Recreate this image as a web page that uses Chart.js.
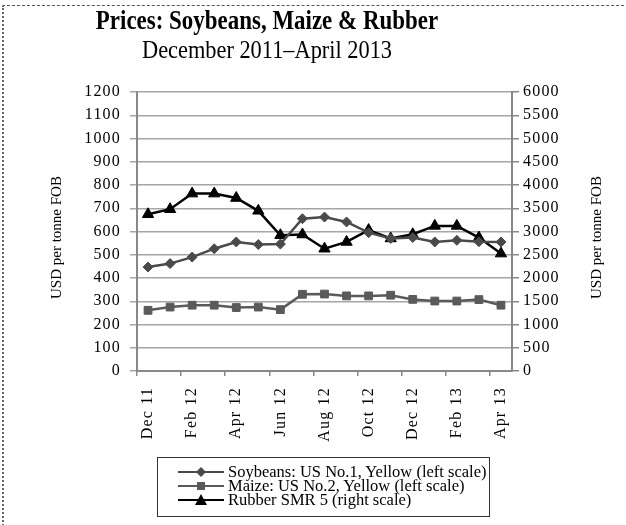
<!DOCTYPE html>
<html>
<head>
<meta charset="utf-8">
<script src="https://cdn.jsdelivr.net/npm/chart.js@4/dist/chart.umd.min.js"></script>
<style>
  html, body { margin: 0; padding: 0; background: #fff; overflow: hidden; }
  body { width: 626px; height: 525px; position: relative; font-family: 'Liberation Serif', 'Times New Roman', serif; }
  #frame { position: absolute; left: 2px; top: 5px; width: 700px; height: 600px;
           border-top: 1px dashed #555; border-left: 2px dotted #666; }
  #chart { position: absolute; left: 0; top: 0; }
  .ttl { position: absolute; left: 0; width: 534px; text-align: center; white-space: nowrap; color: #000; }
  #t1 { top: 5px; font-size: 27px; font-weight: bold; transform: scaleX(0.85); }
  #t2 { top: 35px; font-size: 26px; transform: scaleX(0.86); }
  #legend { position: absolute; left: 157px; top: 457px; width: 333px; height: 60px;
            border: 1.5px solid #333; box-sizing: border-box; }
  .row { position: absolute; left: 20px; height: 14px; line-height: 14px; font-size: 16.5px; white-space: nowrap; }
  .row svg { position: absolute; left: 0; top: 0; }
  .row span { position: absolute; left: 50px; top: 0; }
</style>
</head>
<body>
<div id="frame"></div>
<canvas id="chart" width="626" height="525"></canvas>
<div class="ttl" id="t1">Prices: Soybeans, Maize &amp; Rubber</div>
<div class="ttl" id="t2">December 2011–April 2013</div>
<div id="legend"></div>

<script>
// monthly prices, USD per tonne FOB
var months = ['Dec 11', 'Jan 12', 'Feb 12', 'Mar 12', 'Apr 12', 'May 12', 'Jun 12', 'Jul 12', 'Aug 12',
              'Sep 12', 'Oct 12', 'Nov 12', 'Dec 12', 'Jan 13', 'Feb 13', 'Mar 13', 'Apr 13'];
var soybeans = [447, 462, 490, 526, 555, 544, 546, 655, 662, 641, 595, 570, 574, 555, 562, 556, 555];
var maize = [261, 275, 283, 283, 273, 275, 264, 330, 331, 323, 323, 326, 308, 301, 301, 307, 283];
var rubber = [3370, 3480, 3815, 3815, 3720, 3445, 2920, 2935, 2630, 2775, 3030, 2850, 2940, 3120, 3120, 2870, 2525];

var leftTicks = [0, 1200, 100];
var rightTicks = [0, 6000, 500];

var serif = "'Liberation Serif', 'Times New Roman', serif";
var axisTitle = 'USD per tonne FOB';

var series = [
    { label: 'Soybeans: US No.1, Yellow (left scale)', data: soybeans, axis: 'y', color: '#4a4a4a', marker: 'rectRot', r: 5 },
    { label: 'Maize: US No.2, Yellow (left scale)', data: maize, axis: 'y', color: '#5a5a5a', marker: 'rect', r: 5.5 },
    { label: 'Rubber SMR 5 (right scale)', data: rubber, axis: 'y1', color: '#000000', marker: 'triangle', r: 6.5 }
];

//tick labels get a little tracking, axis titles are drawn afterwards without it
var textPlugin = {
    id: 'textPlugin',
    beforeDraw: function(chart) {
        chart.ctx.letterSpacing = '1.2px';
    },
    afterDraw: function(chart) {
        var ctx = chart.ctx;
        var area = chart.chartArea;
        ctx.save();
        ctx.letterSpacing = '0px';
        ctx.font = '15px ' + serif;
        ctx.fillStyle = '#000';
        ctx.textAlign = 'center';
        ctx.textBaseline = 'middle';
        var midY = (area.top + area.bottom) / 2 + 6;
        [57, 597].forEach(function(x) {
            ctx.save();
            ctx.translate(x, midY);
            ctx.rotate(-Math.PI / 2);
            ctx.fillText(axisTitle, 0, 0);
            ctx.restore();
        });
        ctx.restore();
    }
};

function plainNumber(v) {
    return String(v);
}

var ctx = document.getElementById('chart').getContext('2d');

var chart = new Chart(ctx, {
    type: 'line',
    data: {
        labels: months,
        datasets: series.map(function(s) {
            return {
                label: s.label,
                data: s.data,
                yAxisID: s.axis,
                borderColor: s.color,
                backgroundColor: s.color,
                borderWidth: 2.5,
                pointStyle: s.marker,
                pointRadius: s.r,
                pointBackgroundColor: s.color,
                pointBorderColor: s.color,
                pointBorderWidth: 1,
                tension: 0,
                fill: false
            };
        })
    },
    options: {
        responsive: false,
        animation: false,
        devicePixelRatio: 1,
        layout: { padding: { top: 92, left: 48, right: 19, bottom: 0 } },
        plugins: {
            legend: { display: false },
            tooltip: { enabled: false }
        },
        scales: {
            x: {
                type: 'category',
                offset: true,
                afterFit: function(scale) { scale.height = 154; },
                grid: {
                    offset: true,
                    drawOnChartArea: false,
                    drawTicks: true,
                    tickLength: 5,
                    lineWidth: 1.5,
                    color: function(c) { return c.index % 2 === 0 ? '#888' : 'rgba(0,0,0,0)'; }
                },
                border: { color: '#888', width: 2 },
                ticks: {
                    autoSkip: false,
                    minRotation: 90,
                    maxRotation: 90,
                    padding: 11,
                    color: '#000',
                    font: { family: serif, size: 16 },
                    callback: function(v, i) { return i % 2 === 0 ? this.getLabelForValue(v) : ''; }
                }
            },
            y: {
                position: 'left',
                min: leftTicks[0],
                max: leftTicks[1],
                afterFit: function(scale) { scale.width = 89; },
                grid: { color: '#a6a6a6', lineWidth: 1.5, tickLength: 7 },
                border: { color: '#888', width: 2 },
                ticks: {
                    stepSize: leftTicks[2],
                    padding: 9,
                    color: '#000',
                    font: { family: serif, size: 16 },
                    callback: plainNumber
                }
            },
            y1: {
                position: 'right',
                min: rightTicks[0],
                max: rightTicks[1],
                afterFit: function(scale) { scale.width = 95; },
                grid: { drawOnChartArea: false, color: '#888', lineWidth: 1.5, tickLength: 7 },
                border: { color: '#888', width: 2 },
                ticks: {
                    stepSize: rightTicks[2],
                    padding: 4,
                    color: '#000',
                    font: { family: serif, size: 16 },
                    callback: plainNumber
                }
            }
        }
    },
    plugins: [textPlugin]
});

//legend rows: small line sample with the series marker, then the label
function markerSvg(s) {
    var c = s.color, m;
    if (s.marker === 'rectRot') {
        m = '<polygon points="23,2 28,7 23,12 18,7" fill="' + c + '"/>';
    } else if (s.marker === 'rect') {
        m = '<rect x="19" y="3" width="8" height="8" fill="' + c + '"/>';
    } else {
        m = '<polygon points="23,1 29,12 17,12" fill="' + c + '"/>';
    }
    return '<svg width="46" height="14"><line x1="0" y1="7" x2="46" y2="7" stroke="' + c +
           '" stroke-width="2"/>' + m + '</svg>';
}

var legend = document.getElementById('legend');
series.forEach(function(s, i) {
    var row = document.createElement('div');
    row.className = 'row';
    row.style.top = (7 + i * 14) + 'px';
    row.innerHTML = markerSvg(s) + '<span>' + s.label + '</span>';
    legend.appendChild(row);
});
</script>
</body>
</html>
